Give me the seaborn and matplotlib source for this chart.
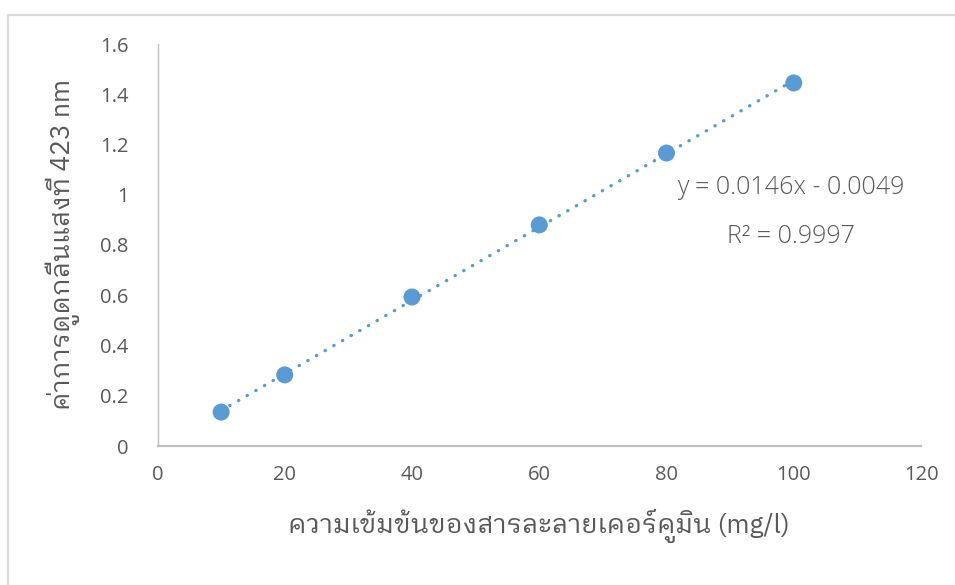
import matplotlib
matplotlib.use("Agg")
import matplotlib.pyplot as plt
from matplotlib.patches import Rectangle
import numpy as np
import pandas as pd
import seaborn as sns

# Curcumin calibration standards
concentration = [10, 20, 40, 60, 80, 100]          # mg/l
absorbance = [0.135, 0.283, 0.593, 0.880, 1.166, 1.445]

# Linear trendline reported on the chart
slope = 0.0146
intercept = -0.0049
r_squared = 0.9997

x_ticks = [0, 20, 40, 60, 80, 100, 120]
y_ticks = [0, 0.2, 0.4, 0.6, 0.8, 1.0, 1.2, 1.4, 1.6]
y_tick_labels = ["0", "0.2", "0.4", "0.6", "0.8", "1", "1.2", "1.4", "1.6"]

x_label = "ความเข้มข้นของสารละลายเคอร์คูมิน (mg/l)"
y_label = "ค่าการดูดกลืนแสงที่ 423 nm"

sns.set_theme(style="white")
thai_fonts = ["IBM Plex Sans Thai Looped", "Noto Sans Thai Looped", "Open Sans", "DejaVu Sans"]
plt.rcParams["font.family"] = ["Open Sans", "DejaVu Sans"]

blue = "#5B9BD5"
text_grey = "#595959"

points = pd.DataFrame({"conc": concentration, "abs": absorbance})
fit_x = np.array([min(concentration), max(concentration)])
trend = pd.DataFrame({"conc": fit_x, "abs": slope * fit_x + intercept})

fig = plt.figure(figsize=(9.55, 5.85), dpi=100)
ax = fig.add_axes([157.5 / 955, 1 - 446 / 585, (921 - 157.5) / 955, (446 - 44) / 585])

# Outer chart-area frame
fig.patches.append(Rectangle((8 / 955, -0.1), 1.2, 1 - 15 / 585 + 0.1,
                             transform=fig.transFigure, fill=False,
                             edgecolor="#d9d9d9", linewidth=1.6, zorder=0))

sns.lineplot(data=trend, x="conc", y="abs", ax=ax, color=blue,
             linewidth=2.4, linestyle=(0, (0.1, 2.9)),
             solid_capstyle="round", dash_capstyle="round", zorder=2)
sns.scatterplot(data=points, x="conc", y="abs", ax=ax, color=blue,
                s=150, edgecolor="none", zorder=3)

ax.set_xlim(0, 120)
ax.set_ylim(0, 1.6)
ax.set_xticks(x_ticks)
ax.set_yticks(y_ticks)
ax.set_yticklabels(y_tick_labels)
ax.tick_params(axis="both", length=0, labelsize=14.5, labelcolor=text_grey)
ax.tick_params(axis="x", pad=14)
ax.tick_params(axis="y", pad=21)

for side in ("top", "right"):
    ax.spines[side].set_visible(False)
ax.spines["left"].set_color("#bfbfbf")
ax.spines["bottom"].set_color("#bfbfbf")
ax.spines["left"].set_linewidth(1.0)
ax.spines["bottom"].set_linewidth(1.6)
ax.grid(False)

ax.set_xlabel(x_label, fontsize=19, color=text_grey, family=thai_fonts,
              fontweight="normal", labelpad=17)
ax.set_ylabel(y_label, fontsize=19, color=text_grey, family=thai_fonts,
              fontweight="normal", labelpad=14)

ax.text(0.830, 0.642, f"y = {slope}x - {abs(intercept)}", transform=ax.transAxes,
        ha="center", va="center", fontsize=18, color=text_grey, fontweight="light")
ax.text(0.830, 0.520, f"R² = {r_squared}", transform=ax.transAxes,
        ha="center", va="center", fontsize=18, color=text_grey, fontweight="light")

fig.savefig("out.png", dpi=100, facecolor="white")
